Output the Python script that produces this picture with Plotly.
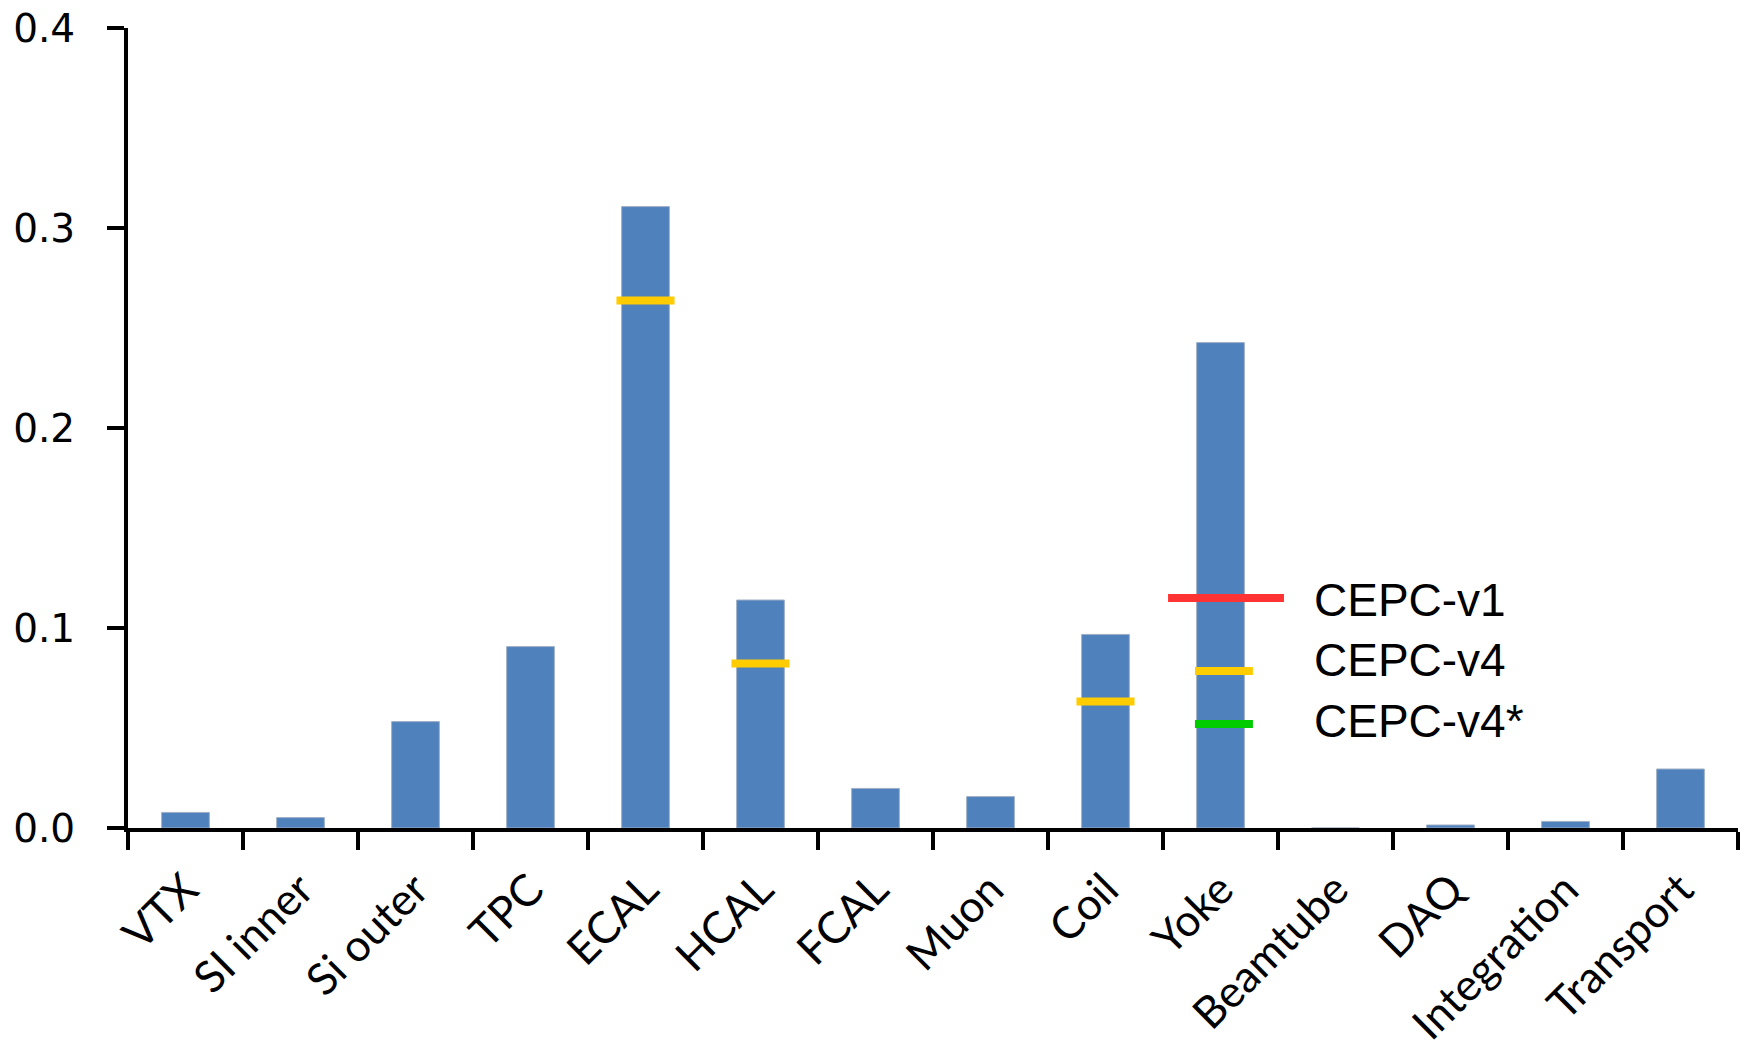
import plotly.graph_objects as go

# Detector subsystems along the x axis
categories = ["VTX", "SI inner", "Si outer", "TPC", "ECAL", "HCAL", "FCAL",
              "Muon", "Coil", "Yoke", "Beamtube", "DAQ", "Integration", "Transport"]

# Bar heights per subsystem
bar_values = [0.0078, 0.0052, 0.0532, 0.0907, 0.3107, 0.1140, 0.0198,
              0.0157, 0.0968, 0.2427, 0.0, 0.0015, 0.0033, 0.0295]

# CEPC-v4 reference values (only for the subsystems that have one)
v4_categories = ["ECAL", "HCAL", "Coil"]
v4_values = [0.2637, 0.0823, 0.0633]

# Legend entries and their colours
legend_names = ["CEPC-v1", "CEPC-v4", "CEPC-v4*"]
legend_colors = ["#FF3333", "#FFCC00", "#00CC00"]

y_ticks = [0.0, 0.1, 0.2, 0.3, 0.4]

fig = go.Figure()

fig.add_trace(go.Bar(
    x=categories, y=bar_values,
    marker=dict(color="#4F81BD", line=dict(color="#9FAFC4", width=1)),
    showlegend=False,
))

fig.add_trace(go.Scatter(
    x=v4_categories, y=v4_values, mode="markers",
    marker=dict(symbol="line-ew", size=41.5,
                line=dict(color=legend_colors[1], width=8)),
    showlegend=False,
))

# Hand-drawn legend block (sample strokes + labels)
sample_x = [(0.646, 0.718), (0.6627, 0.6987), (0.6627, 0.6987)]
sample_y = [0.2875, 0.19625, 0.13]
label_y = [0.285, 0.21, 0.13375]
for name, color, (x0, x1), sy, ly in zip(legend_names, legend_colors,
                                          sample_x, sample_y, label_y):
    fig.add_shape(type="line", xref="paper", yref="paper",
                  x0=x0, x1=x1, y0=sy, y1=sy,
                  line=dict(color=color, width=8))
    fig.add_annotation(xref="paper", yref="paper", x=0.7355, y=ly,
                       text=name, showarrow=False, xanchor="left",
                       yanchor="middle",
                       font=dict(family="Liberation Sans, Arial", size=46,
                                 color="black"))

fig.update_layout(
    width=1744, height=1059,
    margin=dict(l=128, r=6, t=28, b=231),
    paper_bgcolor="white", plot_bgcolor="white",
    bargap=0.585,
    showlegend=False,
)

fig.update_xaxes(
    type="category", automargin=False,
    showline=True, linecolor="black", linewidth=4,
    ticks="outside", tickson="boundaries", ticklen=18, tickwidth=4,
    tickcolor="black", tickangle=-45,
    tickfont=dict(family="Lato", size=44, color="black"),
    ticklabelstandoff=14,
    showgrid=False, zeroline=False,
)

fig.update_yaxes(
    range=[0, 0.4], automargin=False,
    tickvals=y_ticks, ticktext=[f"{v:.1f}" for v in y_ticks],
    showline=True, linecolor="black", linewidth=4,
    ticks="outside", ticklen=17, tickwidth=4, tickcolor="black",
    tickfont=dict(family="DejaVu Sans", size=39, color="black"),
    ticklabelstandoff=24,
    showgrid=False, zeroline=False,
)

fig.write_html("out.html")
